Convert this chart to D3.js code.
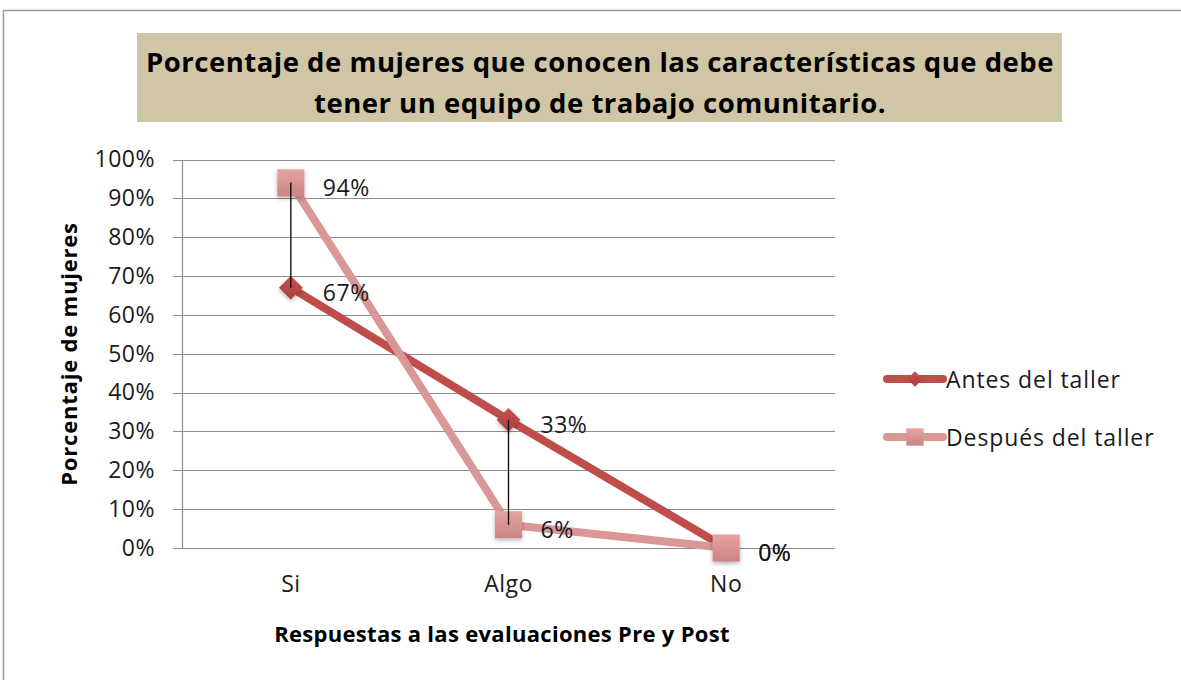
<!DOCTYPE html>
<html>
<head>
<meta charset="utf-8">
<script src="https://cdn.jsdelivr.net/npm/d3@7"></script>
<style>
  html, body { margin: 0; padding: 0; background: #fff; }
  text { font-family: "Open Sans", sans-serif; fill: #1a1a1a; }
</style>
</head>
<body>
<div id="container"></div>
<script>
// data
const categories = ['Si', 'Algo', 'No'];
const antes = [0.67, 0.33, 0.0];
const despues = [0.94, 0.06, 0.0];
const seriesNames = ['Antes del taller', 'Después del taller'];
const yTicks = [0, 0.1, 0.2, 0.3, 0.4, 0.5, 0.6, 0.7, 0.8, 0.9, 1.0];
const titleLines = [
  'Porcentaje de mujeres que conocen las características que debe',
  'tener un equipo de trabajo comunitario.'
];

const W = 1181, H = 680;
const plot = { left: 182, right: 835, top: 159.5, bottom: 548 };
const labelSize = 23;
const labelSpacing = 0.5;

const svg = d3.select('#container')
  .append('svg')
  .attr('width', W)
  .attr('height', H);

const defs = svg.append('defs');

// soft shadow for markers
const shadow = defs.append('filter').attr('id', 'shadow')
  .attr('x', '-50%').attr('y', '-50%').attr('width', '200%').attr('height', '200%');
shadow.append('feDropShadow')
  .attr('dx', 0).attr('dy', 2).attr('stdDeviation', 2)
  .attr('flood-color', '#000').attr('flood-opacity', 0.3);

const gradSq = defs.append('linearGradient').attr('id', 'gradSq')
  .attr('x1', 0).attr('y1', 0).attr('x2', 0).attr('y2', 1);
gradSq.append('stop').attr('offset', '0%').attr('stop-color', '#e6a3a1');
gradSq.append('stop').attr('offset', '100%').attr('stop-color', '#c98583');

const gradDi = defs.append('linearGradient').attr('id', 'gradDi')
  .attr('x1', 0).attr('y1', 0).attr('x2', 0).attr('y2', 1);
gradDi.append('stop').attr('offset', '0%').attr('stop-color', '#c9534f');
gradDi.append('stop').attr('offset', '100%').attr('stop-color', '#a63f3c');

// outer border
svg.append('rect')
  .attr('x', 3.5).attr('y', 10.5)
  .attr('width', W + 20).attr('height', H + 20)
  .attr('fill', 'none')
  .attr('stroke', '#9a9a9a')
  .attr('stroke-width', 1.5);

// title box
svg.append('rect')
  .attr('x', 137).attr('y', 33)
  .attr('width', 925).attr('height', 89)
  .attr('fill', '#d0c6a6');

svg.append('g')
  .selectAll('text')
  .data(titleLines)
  .join('text')
  .attr('x', 600)
  .attr('y', (d, i) => 61 + i * 41)
  .attr('text-anchor', 'middle')
  .attr('dominant-baseline', 'central')
  .attr('font-size', 27.5)
  .attr('font-weight', 'bold')
  .attr('letter-spacing', 0.5)
  .style('fill', '#000')
  .text(d => d);

// scales
const x = d3.scaleBand()
  .domain(categories)
  .range([plot.left, plot.right]);

const y = d3.scaleLinear()
  .domain([0, 1])
  .range([plot.bottom, plot.top]);

// gridlines
svg.append('g')
  .selectAll('line')
  .data(yTicks)
  .join('line')
  .attr('x1', plot.left - 9)
  .attr('x2', plot.right)
  .attr('y1', d => Math.round(y(d)) + 0.5)
  .attr('y2', d => Math.round(y(d)) + 0.5)
  .attr('stroke', '#8c8c8c')
  .attr('stroke-width', 1.2);

// y axis
const yAxis = d3.axisLeft(y)
  .tickValues(yTicks)
  .tickFormat(d3.format('.0%'))
  .tickSize(0)
  .tickPadding(27);

const gy = svg.append('g')
  .attr('transform', `translate(${plot.left},0)`)
  .call(yAxis);
gy.select('.domain').attr('stroke', '#8c8c8c').attr('stroke-width', 1.2);
gy.selectAll('text')
  .attr('font-size', labelSize)
  .attr('letter-spacing', labelSpacing)
  .attr('font-family', '"Open Sans", sans-serif')
  .style('fill', '#1a1a1a');

// x axis
const xAxis = d3.axisBottom(x).tickSize(0).tickPadding(28);
const gx = svg.append('g')
  .attr('transform', `translate(0,${plot.bottom})`)
  .call(xAxis);
gx.select('.domain').remove();
gx.selectAll('text')
  .attr('font-size', labelSize)
  .attr('letter-spacing', labelSpacing)
  .attr('font-family', '"Open Sans", sans-serif')
  .style('fill', '#1a1a1a');

// axis titles
svg.append('text')
  .attr('x', 502).attr('y', 633)
  .attr('text-anchor', 'middle')
  .attr('dominant-baseline', 'central')
  .attr('font-size', 22)
  .attr('font-weight', 'bold')
  .attr('letter-spacing', 0.3)
  .style('fill', '#000')
  .text('Respuestas a las evaluaciones Pre y Post');

svg.append('text')
  .attr('transform', 'translate(68,354) rotate(-90)')
  .attr('text-anchor', 'middle')
  .attr('dominant-baseline', 'central')
  .attr('font-size', 22)
  .attr('font-weight', 'bold')
  .attr('letter-spacing', 0.8)
  .style('fill', '#000')
  .text('Porcentaje de mujeres');

const cx = d => x(d) + x.bandwidth() / 2;

const line = d3.line()
  .x((d, i) => cx(categories[i]))
  .y(d => y(d));

const colors = ['#bf4e4b', '#d99795'];
const diamond = d3.symbol().type(d3.symbolDiamond2).size(360);
const square = d3.symbol().type(d3.symbolSquare).size(730);

// series 1: line + diamonds
svg.append('path')
  .datum(antes)
  .attr('d', line)
  .attr('fill', 'none')
  .attr('stroke', colors[0])
  .attr('stroke-width', 8)
  .attr('stroke-linejoin', 'round');

svg.append('g')
  .selectAll('path')
  .data(antes)
  .join('path')
  .attr('d', diamond)
  .attr('transform', (d, i) => `translate(${cx(categories[i])},${y(d)})`)
  .attr('fill', 'url(#gradDi)')
  .attr('filter', 'url(#shadow)');

// series 2: line + squares
svg.append('path')
  .datum(despues)
  .attr('d', line)
  .attr('fill', 'none')
  .attr('stroke', colors[1])
  .attr('stroke-width', 8)
  .attr('stroke-linejoin', 'round');

svg.append('g')
  .selectAll('path')
  .data(despues)
  .join('path')
  .attr('d', square)
  .attr('transform', (d, i) => `translate(${cx(categories[i])},${y(d)})`)
  .attr('fill', 'url(#gradSq)')
  .attr('filter', 'url(#shadow)');

// high-low lines on top
svg.append('g')
  .selectAll('line')
  .data(categories)
  .join('line')
  .attr('x1', d => cx(d)).attr('x2', d => cx(d))
  .attr('y1', (d, i) => y(Math.max(antes[i], despues[i])))
  .attr('y2', (d, i) => y(Math.min(antes[i], despues[i])))
  .attr('stroke', '#000')
  .attr('stroke-width', 1.3);

// data labels
const fmt = d3.format('.0%');
[antes, despues].forEach(series => {
  svg.append('g')
    .selectAll('text')
    .data(series)
    .join('text')
    .attr('x', (d, i) => cx(categories[i]) + 32)
    .attr('y', d => y(d) + 4)
    .attr('dominant-baseline', 'central')
    .attr('font-size', labelSize)
    .attr('letter-spacing', labelSpacing)
    .text(d => fmt(d));
});

// legend
const legendY = [379, 437];
const legendSymbols = [
  d3.symbol().type(d3.symbolDiamond2).size(150),
  d3.symbol().type(d3.symbolSquare).size(300)
];
const legendFills = ['url(#gradDi)', 'url(#gradSq)'];
const legend = svg.append('g');
seriesNames.forEach((name, i) => {
  const g = legend.append('g').attr('transform', `translate(0,${legendY[i]})`);
  g.append('line')
    .attr('x1', 887).attr('x2', 943)
    .attr('stroke', colors[i])
    .attr('stroke-width', 8)
    .attr('stroke-linecap', 'round');
  g.append('path')
    .attr('d', legendSymbols[i])
    .attr('transform', 'translate(915,0)')
    .attr('fill', legendFills[i]);
  g.append('text')
    .attr('x', 946)
    .attr('dominant-baseline', 'central')
    .attr('font-size', labelSize)
    .attr('letter-spacing', 0.9)
    .text(name);
});
</script>
</body>
</html>
